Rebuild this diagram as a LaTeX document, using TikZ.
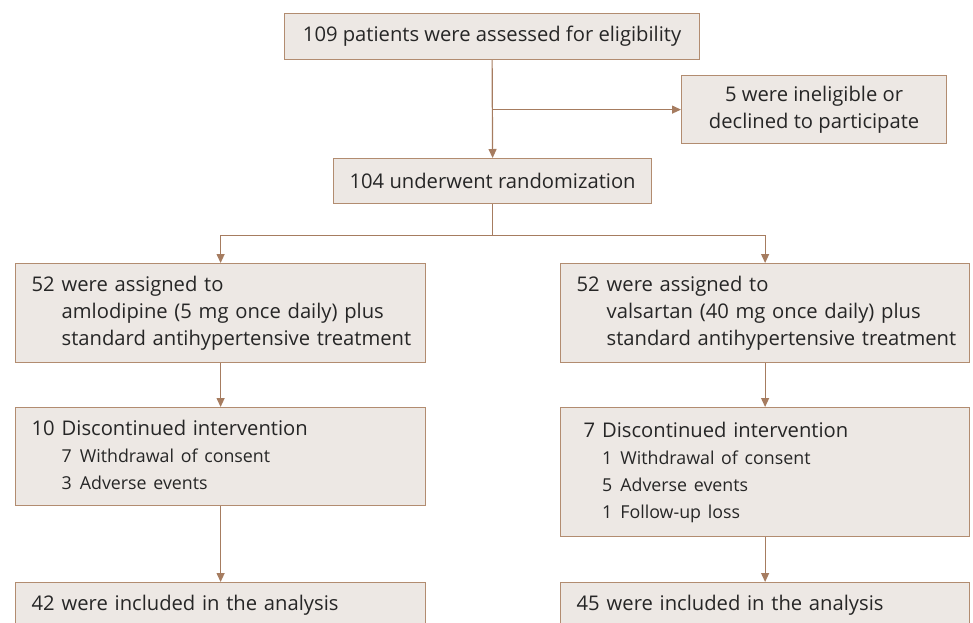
\documentclass[tikz,border=0pt]{standalone}
\usepackage{fontspec}
\setmainfont{Open Sans}
\usetikzlibrary{calc}
\usetikzlibrary{arrows.meta}
\usetikzlibrary{positioning}
\definecolor{boxfill}{RGB}{237,232,228}
\definecolor{boxline}{RGB}{178,140,112}
\definecolor{flowline}{RGB}{166,124,96}
\definecolor{textgray}{RGB}{38,38,38}
\newcommand{\mainsize}{\fontsize{20.2}{27}\selectfont}
\newcommand{\subsize}{\fontsize{17.8}{26.5}\selectfont}

\begin{document}
\begin{tikzpicture}[x=1pt,y=-1pt,
    flowbox/.style={draw=boxline, fill=boxfill, line width=1.2pt, inner ysep=0pt,
                    anchor=north west, text=textgray, font=\mainsize},
    leftbox/.style={flowbox, inner xsep=16pt, align=left},
    flowarrow/.style={draw=flowline, line width=1.2pt, -{Triangle[length=9pt,width=8pt]}}]
            \clip (0,0) rectangle (973,622);
            % screening
            \node[flowbox, minimum width=415, minimum height=46] (assess) at (284,13)
                 {109 patients were assessed for eligibility};
            \node[flowbox, minimum width=265, minimum height=68, align=center] (inelig) at (681,75)
                 {5 were ineligible or\\declined to participate};
            \node[flowbox, minimum width=318, minimum height=45] (rand) at (333,158)
                 {104 underwent randomization};
            % allocation
            \node[leftbox, text width=378, minimum height=99] (amlo) at (15,263)
                 {\begin{tabular}{@{}r@{\hspace{7pt}}l@{}}
                  52 & were assigned to\\
                     & amlodipine (5 mg once daily) plus\\
                     & standard antihypertensive treatment
                  \end{tabular}};
            \node[leftbox, text width=377, minimum height=99] (vals) at (560,263)
                 {\begin{tabular}{@{}r@{\hspace{7pt}}l@{}}
                  52 & were assigned to\\
                     & valsartan (40 mg once daily) plus\\
                     & standard antihypertensive treatment
                  \end{tabular}};
            % follow-up
            \node[leftbox, text width=378, minimum height=98] (discA) at (15,407)
                 {\begin{tabular}{@{}r@{\hspace{7pt}}r@{\hspace{8pt}}l@{}}
                  10 & \multicolumn{2}{@{}l@{}}{Discontinued intervention}\\
                     & \subsize 7 & \subsize Withdrawal of consent\\
                     & \subsize 3 & \subsize Adverse events
                  \end{tabular}};
            \node[leftbox, inner xsep=23pt, text width=363, minimum height=129] (discV) at (560,407)
                 {\begin{tabular}{@{}r@{\hspace{7pt}}r@{\hspace{8pt}}l@{}}
                  7 & \multicolumn{2}{@{}l@{}}{Discontinued intervention}\\
                    & \subsize 1 & \subsize Withdrawal of consent\\
                    & \subsize 5 & \subsize Adverse events\\
                    & \subsize 1 & \subsize Follow-up loss
                  \end{tabular}};
            % analysis
            \node[leftbox, text width=378, minimum height=44] (anaA) at (15,582)
                 {\begin{tabular}{@{}r@{\hspace{7pt}}l@{}}
                  42 & were included in the analysis
                  \end{tabular}};
            \node[leftbox, text width=377, minimum height=44] (anaV) at (560,582)
                 {\begin{tabular}{@{}r@{\hspace{7pt}}l@{}}
                  45 & were included in the analysis
                  \end{tabular}};
            % connectors
            \coordinate (excl) at (assess.south |- inelig.west);
            \coordinate (fork) at ($(rand.south)+(0,31)$);
            \draw[flowarrow] (assess.south) -- (rand.north);
            \draw[flowarrow] (excl) -- (inelig.west);
            \draw[flowarrow] (rand.south) -- (fork) -| (amlo.north);
            \draw[flowarrow] (fork) -| (vals.north);
            \draw[flowarrow] (amlo.south) -- (discA.north);
            \draw[flowarrow] (vals.south) -- (discV.north);
            \draw[flowarrow] (discA.south) -- (anaA.north);
            \draw[flowarrow] (discV.south) -- (anaV.north);
        \end{tikzpicture}
\end{document}
